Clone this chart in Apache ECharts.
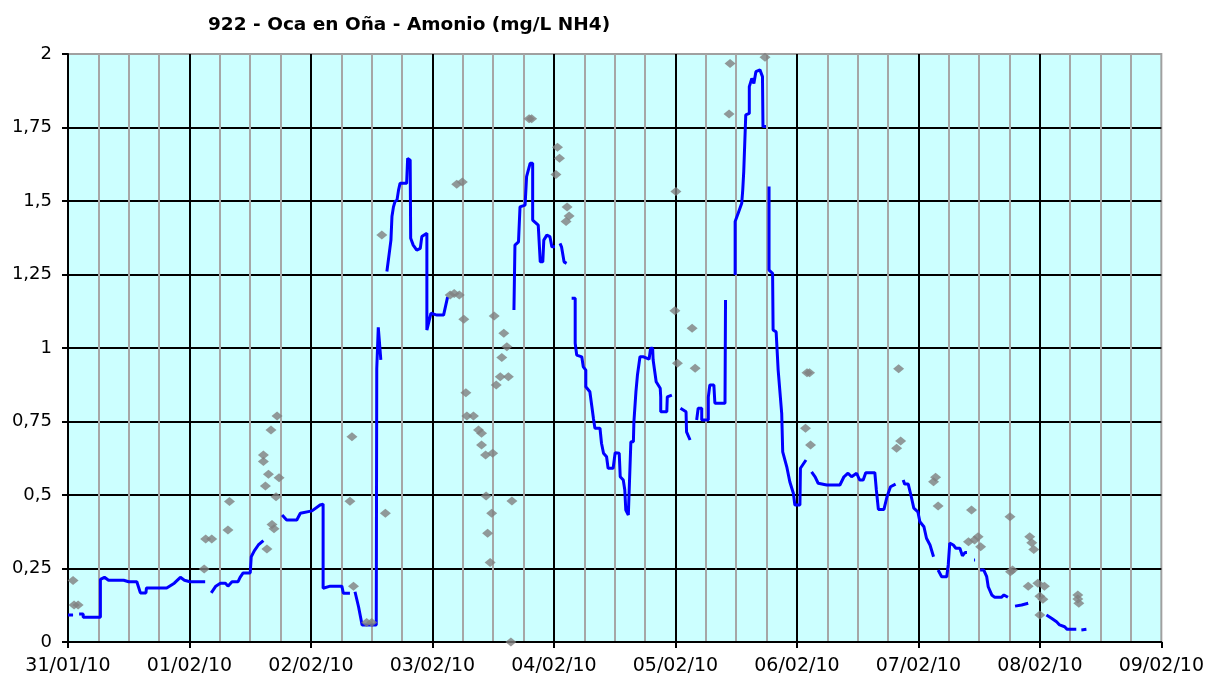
<!DOCTYPE html>
<html>
<head>
<meta charset="utf-8">
<style>
  html, body { margin: 0; padding: 0; background: #fff; }
  #chart { width: 1207px; height: 676px; }
</style>
<script src="https://cdn.jsdelivr.net/npm/echarts@6/dist/echarts.min.js"></script>
</head>
<body>
<div id="chart"></div>
<script>
// x values are hours since 31/01/10 00:00
const dayLabels = ["31/01/10", "01/02/10", "02/02/10", "03/02/10", "04/02/10",
  "05/02/10", "06/02/10", "07/02/10", "08/02/10", "09/02/10"];
const yLabels = ["0", "0,25", "0,5", "0,75", "1", "1,25", "1,5", "1,75", "2"];

// continuous pieces of the measured series (blue line)
const lineSegments = [
  [[0, 0.092], [1.0, 0.092]],
  [[2.2, 0.095], [3.0, 0.095], [3.0, 0.084], [6.4, 0.084], [6.4, 0.213], [7.2, 0.22], [8, 0.21],
   [11, 0.21], [12, 0.205], [13.6, 0.205], [14.3, 0.167], [15.4, 0.167], [15.5, 0.184], [19.5, 0.184],
   [21, 0.2], [22.2, 0.22], [23, 0.21], [24.1, 0.205], [27.1, 0.205]],
  [[28.3, 0.167], [29.2, 0.19], [30.1, 0.2], [31.1, 0.2], [31.6, 0.19], [32.4, 0.205], [33.6, 0.205],
   [34.0, 0.22], [34.6, 0.235], [36.0, 0.235], [36.2, 0.29], [36.8, 0.31], [37.6, 0.33], [38.6, 0.345]],
  [[42.3, 0.432], [43.2, 0.415], [45.2, 0.415], [45.9, 0.438], [48.2, 0.446], [49.8, 0.466],
   [50.4, 0.469], [50.4, 0.183], [51.8, 0.19], [54.1, 0.19], [54.4, 0.166], [55.7, 0.166]],
  [[56.7, 0.171], [57.4, 0.12], [58.1, 0.058], [60.9, 0.058], [61.0, 0.93], [61.3, 1.07], [61.8, 0.96]],
  [[63.0, 1.26], [63.3, 1.30], [63.8, 1.367], [64.0, 1.447], [64.3, 1.48], [64.6, 1.498], [65.0, 1.503],
   [65.3, 1.537], [65.6, 1.56], [66.9, 1.56], [67.1, 1.645], [67.6, 1.639], [67.7, 1.373], [68.2, 1.35],
   [68.9, 1.333], [69.6, 1.339], [69.9, 1.379], [70.9, 1.39], [70.9, 1.061], [71.2, 1.061],
   [71.7, 1.118], [72.9, 1.112], [74.2, 1.112], [75.0, 1.174]],
  [[88.1, 1.129], [88.3, 1.35], [89.0, 1.361], [89.3, 1.48], [90.3, 1.486], [90.6, 1.583], [91.3, 1.628],
   [91.8, 1.628], [91.8, 1.435], [92.9, 1.418], [93.3, 1.293], [93.8, 1.293], [94.0, 1.367],
   [94.6, 1.384], [95.2, 1.379], [95.6, 1.344], [96.2, 1.344]],
  [[97.2, 1.356], [97.5, 1.344], [98.0, 1.293], [98.5, 1.288]],
  [[99.5, 1.169], [100.2, 1.169], [100.2, 1.016], [100.5, 0.976], [101.5, 0.97], [101.8, 0.936],
   [102.3, 0.925], [102.3, 0.868], [103.1, 0.851], [103.5, 0.8], [103.8, 0.761], [104.1, 0.727],
   [105.1, 0.727], [105.4, 0.676], [105.8, 0.642], [106.4, 0.63], [106.7, 0.591], [107.7, 0.591],
   [108.1, 0.644], [108.9, 0.642], [109.1, 0.562], [109.7, 0.551], [110.0, 0.517], [110.2, 0.449],
   [110.7, 0.432], [111.0, 0.438], [111.2, 0.681], [111.7, 0.681], [111.8, 0.749], [112.2, 0.851],
   [112.5, 0.908], [113.0, 0.97], [113.7, 0.97], [114.0, 0.965], [114.8, 0.962], [115.1, 0.999],
   [115.5, 0.999], [115.6, 0.959], [116.2, 0.885], [117.0, 0.863], [117.1, 0.834], [117.1, 0.783],
   [118.3, 0.783], [118.4, 0.834], [119.3, 0.84]],
  [[121.0, 0.795], [122.1, 0.783], [122.2, 0.715], [122.9, 0.687]],
  [[124.2, 0.755], [124.5, 0.795], [125.2, 0.795], [125.2, 0.755], [126.5, 0.755], [126.5, 0.833],
   [126.8, 0.874], [127.6, 0.874], [127.8, 0.812], [129.8, 0.812], [129.9, 1.163]],
  [[131.8, 1.248], [131.8, 1.43], [132.4, 1.458], [133.1, 1.492], [133.3, 1.537], [133.5, 1.6],
   [133.9, 1.793], [134.6, 1.798], [134.6, 1.889], [135.1, 1.917], [135.5, 1.9], [135.9, 1.94],
   [136.7, 1.946], [137.2, 1.923], [137.3, 1.753], [137.9, 1.753]],
  [[138.5, 1.549], [138.5, 1.265], [139.2, 1.254], [139.3, 1.061], [139.9, 1.055], [140.1, 0.99],
   [140.3, 0.925], [141.0, 0.778], [141.2, 0.647], [142.0, 0.596], [142.6, 0.545], [143.3, 0.506],
   [143.6, 0.466], [144.6, 0.466], [144.7, 0.591], [145.8, 0.619]],
  [[146.9, 0.579], [147.6, 0.562], [148.2, 0.54], [149.9, 0.534], [152.5, 0.534], [153.3, 0.562],
   [154.1, 0.574], [154.8, 0.562], [155.8, 0.574], [156.4, 0.551], [157.1, 0.551], [157.6, 0.576],
   [159.4, 0.576], [159.7, 0.517], [160.1, 0.451], [161.2, 0.451], [161.8, 0.494], [162.5, 0.528],
   [163.5, 0.537]],
  [[165.0, 0.551], [165.3, 0.537], [166.0, 0.537], [166.6, 0.494], [167.1, 0.455], [167.9, 0.443],
   [168.3, 0.409], [169.1, 0.392], [169.6, 0.353], [170.3, 0.33], [171.0, 0.29]],
  [[171.9, 0.245], [172.6, 0.222], [173.6, 0.222], [173.9, 0.262], [174.2, 0.336], [174.9, 0.33],
   [175.4, 0.319], [176.2, 0.319], [176.7, 0.293], [177.2, 0.304], [177.6, 0.304]],
  [[179.0, 0.279], [179.2, 0.279]],
  [[180.2, 0.245], [180.9, 0.245], [181.5, 0.222], [181.8, 0.188], [182.5, 0.16], [183.1, 0.152],
   [184.4, 0.152], [184.9, 0.16], [185.7, 0.152]],
  [[187.1, 0.122], [188.4, 0.126], [189.7, 0.132]],
  [[193.3, 0.092], [194.3, 0.081], [195.3, 0.069], [195.9, 0.058], [196.9, 0.052], [197.4, 0.043],
   [199.2, 0.043]],
  [[200.2, 0.041], [201.2, 0.043]]
];

// lab samples (grey diamonds)
const samplePoints = [
  [1.0, 0.209], [1.2, 0.126], [2.0, 0.126],
  [26.9, 0.248], [27.2, 0.35], [28.4, 0.35], [31.6, 0.381], [31.9, 0.478],
  [38.6, 0.636], [38.6, 0.614], [39.0, 0.531], [39.3, 0.316], [39.6, 0.571], [40.1, 0.721],
  [40.3, 0.40], [40.7, 0.385], [41.1, 0.494], [41.3, 0.769], [41.7, 0.559],
  [55.7, 0.479], [56.1, 0.698], [56.4, 0.19], [59.0, 0.066], [60.0, 0.066], [62.0, 1.384], [62.7, 0.438],
  [75.5, 1.18], [76.3, 1.185], [77.3, 1.18], [76.8, 1.557], [77.9, 1.565], [78.2, 1.098],
  [78.6, 0.848], [78.8, 0.769], [80.1, 0.769], [81.1, 0.721], [81.7, 0.71], [81.7, 0.67],
  [82.5, 0.636], [83.9, 0.642], [82.6, 0.497], [82.9, 0.37], [83.4, 0.27], [83.7, 0.438],
  [84.2, 1.109], [84.6, 0.874], [85.4, 0.902], [85.7, 0.968], [86.1, 1.05], [86.7, 1.004],
  [87.0, 0.902], [87.5, 0.0], [87.7, 0.48],
  [91.1, 1.78], [91.6, 1.78], [96.4, 1.59], [96.7, 1.683], [97.1, 1.645], [98.4, 1.43],
  [98.6, 1.48], [99.0, 1.449],
  [119.9, 1.127], [120.1, 1.532], [120.4, 0.948], [123.3, 1.067], [123.9, 0.931],
  [130.6, 1.796], [130.8, 1.968], [137.7, 1.989],
  [145.7, 0.727], [146.0, 0.916], [146.5, 0.916], [146.7, 0.67],
  [163.7, 0.659], [164.1, 0.929], [164.5, 0.684],
  [171.0, 0.545], [171.4, 0.56], [171.9, 0.463],
  [177.9, 0.341], [178.5, 0.449], [179.1, 0.347], [179.8, 0.358], [180.3, 0.324],
  [186.1, 0.426], [186.2, 0.239], [186.6, 0.245],
  [189.7, 0.19], [190.0, 0.358], [190.4, 0.338], [190.8, 0.315], [191.6, 0.2], [192.9, 0.19],
  [192.0, 0.156], [192.6, 0.145], [192.0, 0.092],
  [199.5, 0.16], [199.7, 0.132], [199.5, 0.146]
];

const chart = echarts.init(document.getElementById("chart"));
const font = "DejaVu Sans";

const lineSeries = lineSegments.map((seg) => ({
  type: "line",
  data: seg,
  showSymbol: false,
  symbol: "none",
  lineStyle: { color: "#0000ff", width: 3 },
  z: 3,
}));

chart.setOption({
  animation: false,
  title: {
    text: "922 - Oca en Oña - Amonio (mg/L NH4)",
    left: 203,
    top: 11,
    textStyle: { fontFamily: font, fontSize: 18.5, fontWeight: "bold", color: "#000" },
  },
  grid: {
    left: 68,
    right: 45,
    top: 54,
    bottom: 34,
    show: true,
    backgroundColor: "#ccffff",
    borderColor: "#a0a0a0",
    borderWidth: 2,
  },
  xAxis: {
    type: "value",
    min: 0,
    max: 216,
    interval: 24,
    axisLine: { lineStyle: { color: "#000", width: 2 } },
    axisTick: { show: true, length: 6, lineStyle: { color: "#000", width: 2 } },
    axisLabel: {
      fontFamily: font,
      fontSize: 19,
      color: "#000",
      margin: 15,
      formatter: (v) => dayLabels[Math.round(v / 24)],
    },
    splitLine: { show: true, showMaxLine: false, lineStyle: { color: "#000", width: 2 } },
    minorTick: { show: false, splitNumber: 4 },
    minorSplitLine: { show: true, lineStyle: { color: "#a6a6a6", width: 2 } },
  },
  yAxis: {
    type: "value",
    min: 0,
    max: 2,
    interval: 0.25,
    axisLine: { show: true, lineStyle: { color: "#000", width: 2 } },
    axisTick: { show: true, length: 6, lineStyle: { color: "#000", width: 2 } },
    axisLabel: {
      fontFamily: font,
      fontSize: 18,
      color: "#000",
      margin: 16,
      formatter: (v) => yLabels[Math.round(v / 0.25)],
    },
    splitLine: { show: true, showMaxLine: false, lineStyle: { color: "#000", width: 2 } },
  },
  series: lineSeries.concat([
    {
      type: "scatter",
      data: samplePoints,
      symbol: "diamond",
      symbolSize: [11, 9],
      itemStyle: { color: "#808080" },
      z: 4,
    },
  ]),
});
</script>
</body>
</html>
